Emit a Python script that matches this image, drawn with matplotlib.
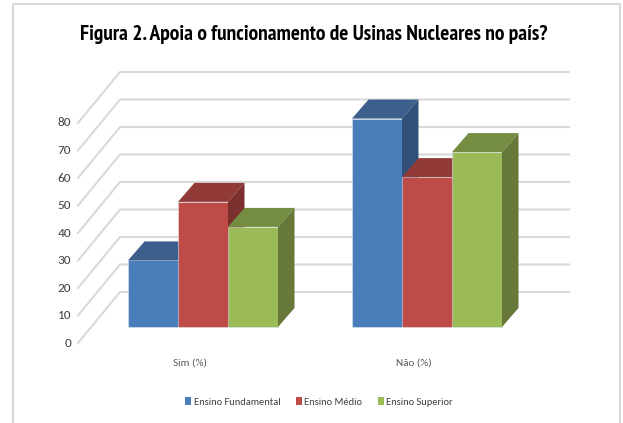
import matplotlib
matplotlib.use("Agg")
import matplotlib.pyplot as plt
from matplotlib.patches import Polygon, Patch
from matplotlib.lines import Line2D

# ---- data ----
categories = ["Sim (%)", "Não (%)"]
series = ["Ensino Fundamental", "Ensino Médio", "Ensino Superior"]
fundamental = [24.2, 75.8]
medio = [45.5, 54.5]
superior = [36.4, 63.6]
yticks = [0, 10, 20, 30, 40, 50, 60, 70, 80]
title = "Figura 2. Apoia o funcionamento de Usinas Nucleares no país?"

values = [fundamental, medio, superior]
front_cols = ["#4a7ebb", "#be4b48", "#9bbb59"]
top_cols = ["#3c5f8b", "#923a37", "#748d40"]
side_cols = ["#31507a", "#7c302d", "#66793a"]

W, H = 623, 423
fig = plt.figure(figsize=(W / 100, H / 100), dpi=100)
ax = fig.add_axes([0, 0, 1, 1])
PX = 50.0     # px per x unit
PY = 2.75     # px per value unit
Y0 = 343      # pixel row of front floor zero
ax.set_xlim(0, W / PX)
ax.set_ylim((Y0 - H) / PY, Y0 / PY)
ax.axis("off")

body = ["Carlito", "DejaVu Sans"]
head = ["PT Sans Narrow", "DejaVu Sans"]

# layout (data units)
axis_x = 78 / PX
wall_dx = 42 / PX
wall_dy = 51 / PY
grid_end = 569 / PX
bar_base = 16 / PY
bar_dx = 16.5 / PX
bar_dy = 19 / PY
group_left = [128 / PX, 352 / PX]
bar_w = 1.0

grid_col = "#d9d9d9"
for t in yticks:
    ax.add_line(Line2D([axis_x, axis_x + wall_dx, grid_end],
                       [t, t + wall_dy, t + wall_dy],
                       color=grid_col, lw=1.5, zorder=1))
    ax.text(71 / PX, t, str(t), ha="right", va="center", fontsize=9.5,
            color="#404040", family=body)

for g, left in enumerate(group_left):
    for s in range(len(series)):
        v = values[s][g]
        x0 = left + s * bar_w
        x1 = x0 + bar_w
        b = bar_base
        top = b + v
        z = 2 + g * 10 + s * 3
        ax.bar(x0, v, width=bar_w, bottom=b, align="edge",
               color=front_cols[s], edgecolor="#dfe6ef", linewidth=0.4,
               zorder=z)
        ax.add_patch(Polygon([(x0, top), (x0 + bar_dx, top + bar_dy),
                              (x1 + bar_dx, top + bar_dy), (x1, top)],
                             closed=True, facecolor=top_cols[s],
                             edgecolor="none", zorder=z))
        ax.add_patch(Polygon([(x1, b), (x1 + bar_dx, b + bar_dy),
                              (x1 + bar_dx, top + bar_dy), (x1, top)],
                             closed=True, facecolor=side_cols[s],
                             edgecolor="none", zorder=z))

cat_x = [190 / PX, 414 / PX]
for cx, c in zip(cat_x, categories):
    ax.text(cx, (Y0 - 363) / PY, c, ha="center", va="center", fontsize=8,
            color="#595959", family=body)

handles = [Patch(facecolor=c, edgecolor="none") for c in front_cols]
leg = fig.legend(handles, series, loc="center", bbox_to_anchor=(319 / W, 1 - 402 / H),
                 ncol=3, frameon=False, handlelength=0.6,
                 handleheight=0.7, handletextpad=0.2, columnspacing=1.5,
                 prop={"family": body, "size": 7.5})
for t in leg.get_texts():
    t.set_color("#404040")

ttl = fig.text(314 / W, 1 - 34 / H, title, ha="center", va="center", fontsize=16,
               fontweight="bold", color="#000000", family=head)
fig.canvas.draw()
wpx = ttl.get_window_extent().width
ttl.set_fontsize(16 * 468 / wpx)

# outer chart border
fig.add_artist(Line2D([13 / W, 13 / W, 620 / W, 620 / W],
                      [0, 1 - 4 / H, 1 - 4 / H, 0], transform=fig.transFigure,
                      color="#d9d9d9", lw=1.5))

fig.savefig("out.png", dpi=100)
